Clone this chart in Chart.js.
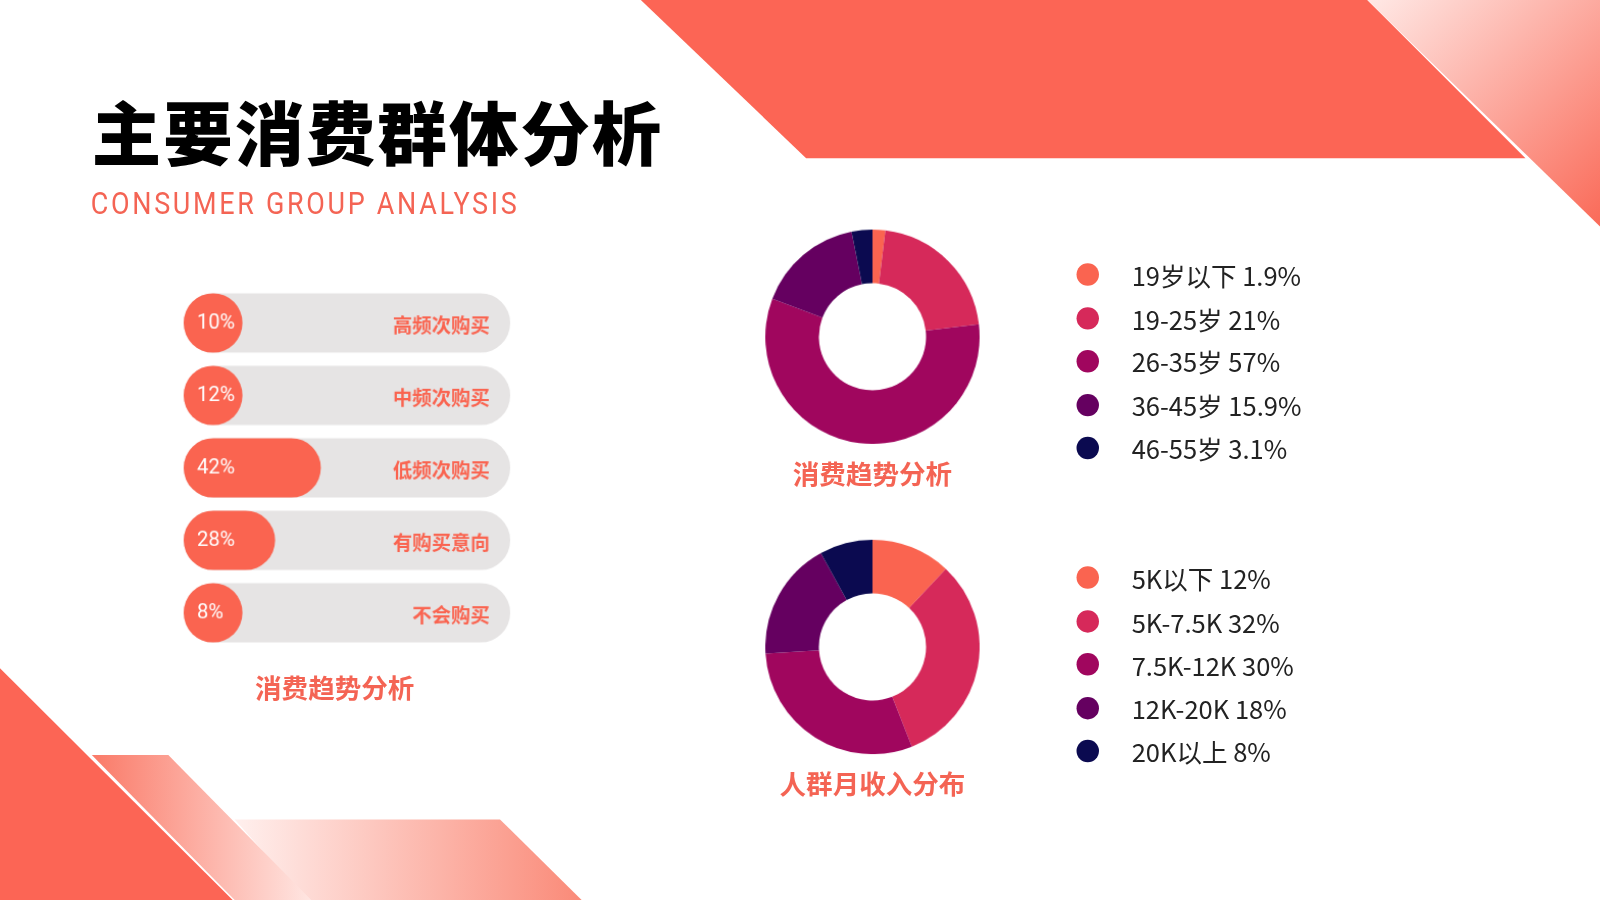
<!DOCTYPE html>
<html><head><meta charset="utf-8">
<script src="https://cdn.jsdelivr.net/npm/chart.js@4"></script>
<style>
html,body{margin:0;padding:0;background:#fff;overflow:hidden;font-family:"Noto Sans CJK SC","Noto Sans",sans-serif}
#stage{position:absolute;left:0;top:0;width:1568px;height:882px;transform:scale(1.020408);transform-origin:0 0}
svg.bg{position:absolute;left:0;top:0}
.abs{position:absolute}
h1{position:absolute;left:90px;top:78px;margin:0;font-size:68px;font-weight:900;color:#000;letter-spacing:2px}
.sub{left:89px;top:182px;font-family:"Roboto","Liberation Sans Narrow",sans-serif;font-size:30px;color:#f46454;letter-spacing:3px;transform:scaleX(0.88);transform-origin:0 0}
.cap{font-size:26px;font-weight:700;color:#f46454;text-align:center;width:300px}
.leg{font-size:25px;color:#222}
.leg div{height:42.5px;display:flex;align-items:center}
.leg span.d{display:inline-block;width:22px;height:22px;border-radius:50%;margin-right:32px}
</style></head><body>
<div id="stage">
<svg class="bg" width="1568" height="882">
<defs>
<linearGradient id="g1" x1="0" y1="0" x2="1" y2="1"><stop offset="0" stop-color="#ffe9e6"/><stop offset="1" stop-color="#fa6a58"/></linearGradient>
<linearGradient id="g2" x1="0" y1="0" x2="1" y2="0"><stop offset="0" stop-color="#fa7a68"/><stop offset="1" stop-color="#ffe6e2"/></linearGradient>
<linearGradient id="g3" x1="0" y1="0" x2="1" y2="0"><stop offset="0" stop-color="#fff0ee"/><stop offset="1" stop-color="#fa8a78"/></linearGradient>
</defs>
<polygon points="628,0 1340,0 1495,155 790,155" fill="#fc6555"/>
<polygon points="1340,0 1568,0 1568,222" fill="url(#g1)"/>
<polygon points="230,803 490,803 570,882 300,882" fill="url(#g3)"/>
<polygon points="90,740 165,740 305,882 230,882" fill="url(#g2)"/>
<polygon points="0,655 228,882 0,882" fill="#fc6555"/>
</svg>
<h1>主要消费群体分析</h1>
<div class="abs sub">CONSUMER GROUP ANALYSIS</div>
<div class="abs" style="left:180px;top:281px;width:320px;height:355px"><canvas id="bar"></canvas></div>
<div class="abs cap" style="left:178px;top:654px">消费趋势分析</div>
<div class="abs" style="left:750px;top:225px;width:210px;height:210px"><canvas id="d1"></canvas></div>
<div class="abs cap" style="left:705px;top:444px">消费趋势分析</div>
<div class="abs" style="left:750px;top:529px;width:210px;height:210px"><canvas id="d2"></canvas></div>
<div class="abs cap" style="left:705px;top:748px">人群月收入分布</div>
<div class="abs leg" id="leg1" style="left:1055px;top:248px"></div>
<div class="abs leg" id="leg2" style="left:1055px;top:545px"></div>
</div>
<script>
const barCategories=["高频次购买","中频次购买","低频次购买","有购买意向","不会购买"];
const barValues=[10,12,42,28,8];
const ageLabels=["19岁以下","19-25岁","26-35岁","36-45岁","46-55岁"];
const ageValues=[1.9,21,57,15.9,3.1];
const incomeLabels=["5K以下","5K-7.5K","7.5K-12K","12K-20K","20K以上"];
const incomeValues=[12,32,30,18,8];
const palette=["#fa6450","#d6295a","#a0065e","#650060","#0b0a50"];
const CORAL="#fa6450";
const font='"Noto Sans CJK SC","Noto Sans",sans-serif';

const labelPlugin={id:'lbl',afterDatasetsDraw(c){
  const ctx=c.ctx,meta=c.getDatasetMeta(1),xs=c.scales.x;
  ctx.save();ctx.textBaseline='middle';
  meta.data.forEach((b,i)=>{
    ctx.fillStyle='#fff';ctx.font='20px "Roboto","Noto Sans",sans-serif';ctx.textAlign='left';
    ctx.fillText(barValues[i]+'%',xs.getPixelForValue(0)+13,b.y);
    ctx.fillStyle=CORAL;ctx.font='bold 19px '+font;ctx.textAlign='right';
    ctx.fillText(barCategories[i],xs.getPixelForValue(100)-20,b.y+2);
  });ctx.restore();}};

new Chart(document.getElementById('bar'),{type:'bar',
 data:{labels:barCategories,datasets:[
  {data:barCategories.map(()=>100),backgroundColor:'#e6e4e4',borderRadius:29,borderSkipped:false,order:2,barPercentage:0.82,categoryPercentage:1},
  {data:barValues.map(v=>Math.max(v,18)),backgroundColor:CORAL,borderRadius:29,borderSkipped:false,order:1,barPercentage:0.82,categoryPercentage:1}]},
 options:{indexAxis:'y',responsive:true,maintainAspectRatio:false,animation:false,
  layout:{padding:0},
  scales:{x:{display:false,min:0,max:100,stacked:false},y:{display:false,stacked:true}},
  datasets:{bar:{grouped:false}},
  plugins:{legend:{display:false},tooltip:{enabled:false}}},
 plugins:[labelPlugin]});

function donut(id,vals){
 new Chart(document.getElementById(id),{type:'doughnut',
  data:{labels:vals.map((_,i)=>i),datasets:[{data:vals,backgroundColor:palette,borderWidth:0}]},
  options:{responsive:true,maintainAspectRatio:false,animation:false,cutout:'50%',
   plugins:{legend:{display:false},tooltip:{enabled:false}}}});
}
donut('d1',ageValues);donut('d2',incomeValues);

function legend(id,labels,vals){
 document.getElementById(id).innerHTML=labels.map((l,i)=>
  `<div><span class="d" style="background:${palette[i]}"></span>${l} ${vals[i]}%</div>`).join('');
}
legend('leg1',ageLabels,ageValues);legend('leg2',incomeLabels,incomeValues);
</script>
</body></html>
